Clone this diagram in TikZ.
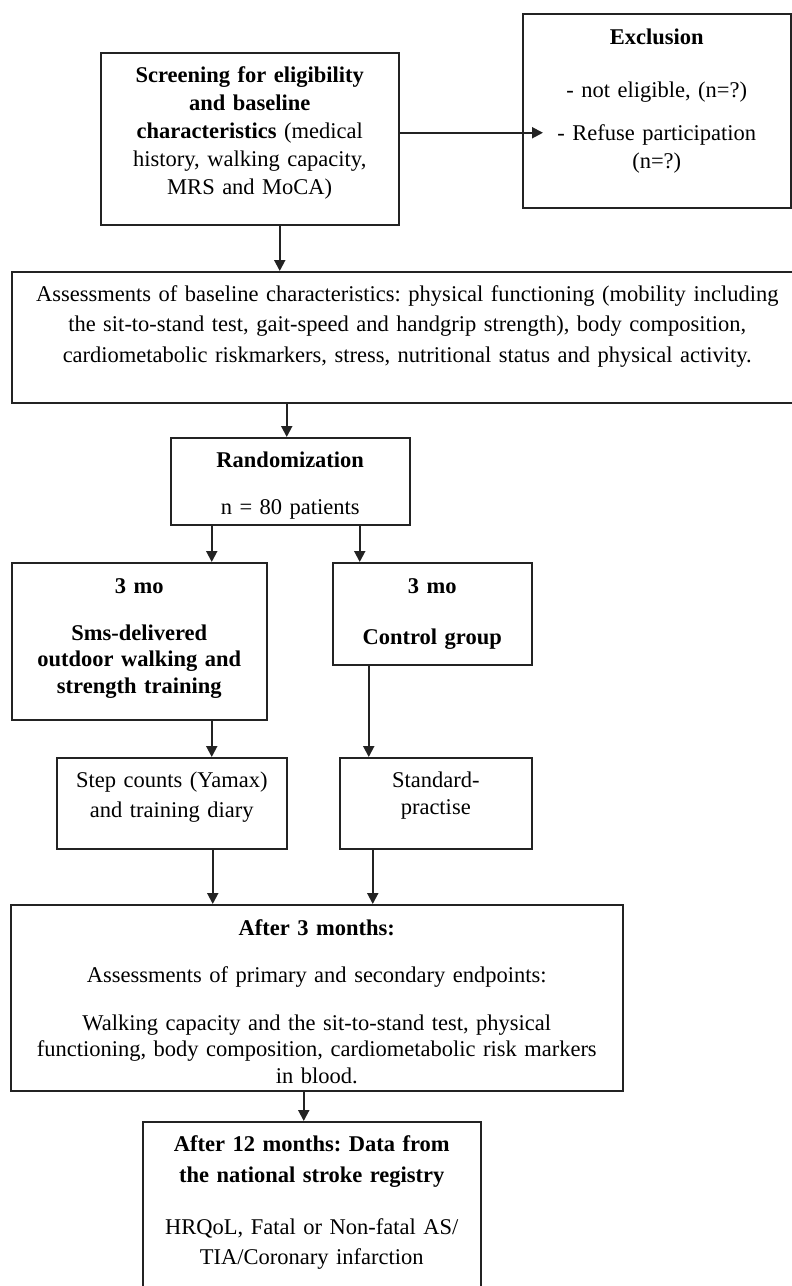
\documentclass[tikz,border=0pt]{standalone}
\usepackage{fontspec}
\setmainfont{Liberation Serif}
\frenchspacing
\usepackage{tikz}
\usetikzlibrary{arrows.meta,positioning,calc}
\definecolor{linegray}{RGB}{35,35,35}
\tikzset{
  % 全局字体
  every node/.append style={font=\fontsize{22.5}{28}\selectfont},
  % 基础盒子
  box/.style={
    draw=linegray,
    line width=1.5pt,
    inner xsep=4pt,
    inner ysep=0pt,
    align=center,
    anchor=north west
  },
  % 箭头样式
  arr/.style={-{Triangle[length=11pt,width=11pt]}, line width=2pt, linegray},
}

\begin{document}
\begin{tikzpicture}[x=1pt, y=-1pt]
        \clip (0,0) rectangle (792,1286);

        % 筛选与排除
        \node[box, text width=290pt, text height=29.5pt, text depth=142.5pt] (screen) at (100,52)
            {\textbf{Screening for eligibility}\\ \textbf{and baseline}\\ \textbf{characteristics} (medical\\ history, walking capacity,\\ MRS and MoCA)};
        \node[box, text width=260pt, text height=30.5pt, text depth=163.5pt] (excl) at (522,13)
            {\textbf{Exclusion}\\[25pt] - not eligible, (n=?)\\[15pt] - Refuse participation\\ (n=?)};

        % 基线评估
        \node[box, text width=783pt, text height=29.5pt, text depth=101.5pt] (assess) at (11,271)
            {Assessments of baseline characteristics: physical functioning (mobility including\\[2.5pt] the sit-to-stand test, gait-speed and handgrip strength), body composition,\\[2.5pt] cardiometabolic riskmarkers, stress, nutritional status and physical activity.};

        % 随机分组
        \node[box, text width=231pt, text height=29.5pt, text depth=57.5pt] (random) at (170,437)
            {\textbf{Randomization}\\[19pt] n = 80 patients};
        \node[box, text width=247pt, text height=30.5pt, text depth=126.5pt] (sms) at (11,562)
            {\bfseries 3 mo\\[19pt] Sms-delivered\\[-1.5pt] outdoor walking and\\[-1.5pt] strength training};
        \node[box, text width=191pt, text height=30.5pt, text depth=71.5pt] (control) at (332,562)
            {\bfseries 3 mo\\[23pt] Control group};
        \node[box, text width=222pt, text height=29.5pt, text depth=61.5pt] (stepcount) at (56,757)
            {Step counts (Yamax)\\[2pt] and training diary};
        \node[box, text width=184pt, text height=29.5pt, text depth=61.5pt] (standard) at (339,757)
            {Standard-\\[-1pt] practise};

        % 随访
        \node[box, text width=604pt, text height=30.5pt, text depth=155.5pt] (after3) at (10,904)
            {\textbf{After 3 months:}\\[19pt] Assessments of primary and secondary endpoints:\\[20pt] Walking capacity and the sit-to-stand test, physical\\[-2pt] functioning, body composition, cardiometabolic risk markers\\[-1pt] in blood.};
        \node[box, text width=330pt, text height=29.5pt, text depth=159.5pt] (registry) at (142,1121)
            {\textbf{After 12 months: Data from}\\[3pt] \textbf{the national stroke registry}\\[24pt] HRQoL, Fatal or Non-fatal AS/\\[2pt] TIA/Coronary infarction};

        % 连线
        \draw[arr] ($(screen.east)+(0,-6)$) -- ($(screen.east -| excl.west)+(21,-6)$);
        \draw[arr] ($(screen.south)+(30,0)$) -- ($(screen.south |- assess.north)+(30,0)$);
        \draw[arr] ($(random.north |- assess.south)+(-3.5,0)$) -- ($(random.north)+(-3.5,0)$);
        \draw[arr] ($(random.south)+(-78.5,0)$) -- ($(random.south |- sms.north)+(-78.5,0)$);
        \draw[arr] ($(random.south)+(69.5,0)$) -- ($(random.south |- control.north)+(69.5,0)$);
        \draw[arr] ($(stepcount.north |- sms.south)+(40,0)$) -- ($(stepcount.north)+(40,0)$);
        \draw[arr] ($(control.south)+(-63.5,0)$) -- ($(control.south |- standard.north)+(-63.5,0)$);
        \draw[arr] ($(stepcount.south)+(41,0)$) -- ($(stepcount.south |- after3.north)+(41,0)$);
        \draw[arr] ($(standard.south)+(-63,0)$) -- ($(standard.south |- after3.north)+(-63,0)$);
        \draw[arr] ($(registry.north |- after3.south)+(-8,0)$) -- ($(registry.north)+(-8,0)$);
    \end{tikzpicture}
\end{document}
